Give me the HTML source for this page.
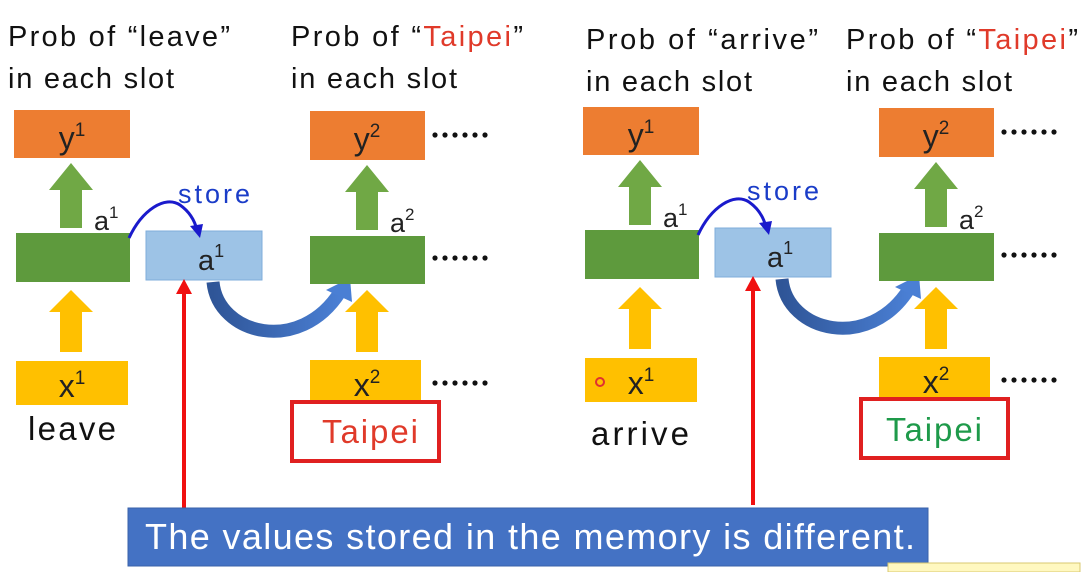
<!DOCTYPE html>
<html><head><meta charset="utf-8"><style>
html,body{margin:0;padding:0;background:#fff;}
svg{display:block;font-family:"Liberation Sans",sans-serif;}
</style></head><body>
<svg width="1086" height="572" viewBox="0 0 1086 572" xmlns="http://www.w3.org/2000/svg">
<defs>
<linearGradient id="cg" x1="0" y1="0" x2="1" y2="0">
<stop offset="0" stop-color="#2f5597"/><stop offset="1" stop-color="#4a7fd4"/></linearGradient>
<g id="dots" fill="#111">
  <circle cx="0" cy="0" r="2.6"/><circle cx="10" cy="0" r="2.6"/><circle cx="20" cy="0" r="2.6"/>
  <circle cx="30" cy="0" r="2.6"/><circle cx="40" cy="0" r="2.6"/><circle cx="50" cy="0" r="2.6"/>
</g>
<g id="half">
  <rect x="14" y="110" width="116" height="48" fill="#ed7d31"/>
  <text x="72" y="149" font-size="32" text-anchor="middle" fill="#222">y<tspan font-size="19" dy="-13">1</tspan></text>
  <polygon points="71,163 93,190 82,190 82,228 60,228 60,190 49,190" fill="#70a845"/>
  <rect x="16" y="233" width="114" height="49" fill="#5e9a3d"/>
  <text x="94" y="230" font-size="27" fill="#222">a<tspan font-size="17" dy="-12">1</tspan></text>
  <polygon points="71,290 93,312 82,312 82,352 60,352 60,312 49,312" fill="#ffc000"/>
  <rect x="16" y="361" width="112" height="44" fill="#ffc000"/>
  <text x="72" y="397" font-size="32" text-anchor="middle" fill="#222">x<tspan font-size="19" dy="-13">1</tspan></text>
  <rect x="146" y="231" width="116" height="49" fill="#9dc3e6" stroke="#7faedb"/>
  <text x="198" y="270" font-size="29" fill="#222">a<tspan font-size="18" dy="-13">1</tspan></text>
  <path d="M129,238 C142,210 165,195 180,205 C190,212 195,222 197,230" fill="none" stroke="#1a1acc" stroke-width="3"/>
  <polygon points="190,226 200,238 203,224" fill="#1a1acc"/>
  <text x="178" y="203" font-size="27" fill="#1a3cc8" textLength="72">store</text>
  <path d="M213,282 C218,335 300,355 340,292" fill="none" stroke="url(#cg)" stroke-width="13"/>
  <polygon points="326,290 350,278 352,302" fill="#4a7fd4"/>
  <rect x="310" y="111" width="115" height="49" fill="#ed7d31"/>
  <text x="367" y="150" font-size="32" text-anchor="middle" fill="#222">y<tspan font-size="19" dy="-13">2</tspan></text>
  <use href="#dots" x="435" y="135"/>
  <polygon points="367,165 389,192 378,192 378,230 356,230 356,192 345,192" fill="#70a845"/>
  <rect x="310" y="236" width="115" height="48" fill="#5e9a3d"/>
  <text x="390" y="232" font-size="27" fill="#222">a<tspan font-size="17" dy="-12">2</tspan></text>
  <use href="#dots" x="435" y="258"/>
  <polygon points="367,290 389,312 378,312 378,352 356,352 356,312 345,312" fill="#ffc000"/>
  <rect x="310" y="360" width="111" height="40" fill="#ffc000"/>
  <text x="367" y="396" font-size="32" text-anchor="middle" fill="#222">x<tspan font-size="19" dy="-13">2</tspan></text>
  <use href="#dots" x="435" y="383"/>
  <rect x="292" y="402" width="147" height="59" fill="none" stroke="#e02020" stroke-width="4"/>
  <line x1="184" y1="508" x2="184" y2="292" stroke="#f01010" stroke-width="4"/>
  <polygon points="176,294 184,279 192,294" fill="#f01010"/>
</g>
</defs>

<g font-size="29" fill="#111">
  <text x="8" y="46" textLength="222">Prob of “leave”</text>
  <text x="8" y="88" textLength="166">in each slot</text>
  <text x="291" y="46" textLength="232">Prob of “<tspan fill="#e03a2a">Taipei</tspan>”</text>
  <text x="291" y="88" textLength="166">in each slot</text>
  <text x="586" y="49" textLength="232">Prob of “arrive”</text>
  <text x="586" y="91" textLength="166">in each slot</text>
  <text x="846" y="49" textLength="232">Prob of “<tspan fill="#e03a2a">Taipei</tspan>”</text>
  <text x="846" y="91" textLength="166">in each slot</text>
</g>

<use href="#half"/>
<g transform="translate(569,-3)"><use href="#half"/></g>

<text x="28" y="440" font-size="33" fill="#111" textLength="88">leave</text>
<text x="322" y="443" font-size="33" fill="#e03a2a" textLength="96">Taipei</text>
<text x="591" y="445" font-size="33" fill="#111" textLength="98">arrive</text>
<text x="886" y="441" font-size="33" fill="#1e9a4a" textLength="96">Taipei</text>
<circle cx="600" cy="382" r="4" fill="none" stroke="#e03030" stroke-width="2"/>

<rect x="128" y="508" width="800" height="58" fill="#4472c4" stroke="#3a62aa"/>
<text x="145" y="549" font-size="36" fill="#fff" textLength="770">The values stored in the memory is different.</text>
<rect x="888" y="563" width="192" height="9" fill="#fff8c0" stroke="#d8c870"/>
</svg>
</body></html>
